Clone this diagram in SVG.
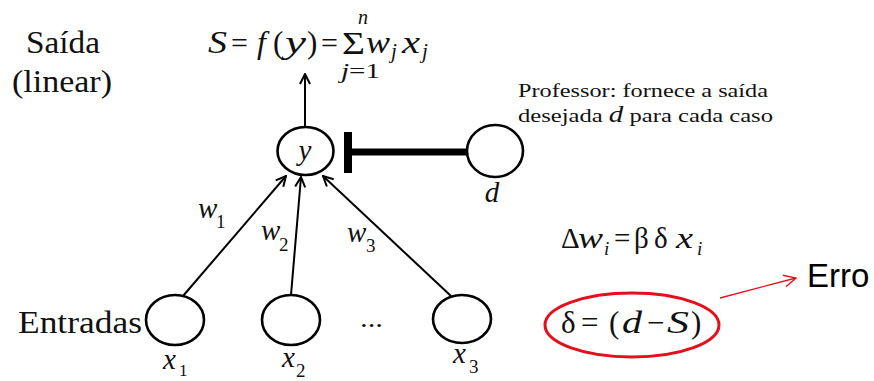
<svg xmlns="http://www.w3.org/2000/svg" width="874" height="381" viewBox="0 0 874 381">
<defs>
<style>
.t{font-family:"Liberation Serif","Times New Roman",serif;fill:#111}
.i{font-style:italic}
.node{fill:#fff;stroke:#000;stroke-width:2.6}
.con{stroke:#000;stroke-width:2;fill:none}
</style>
<marker id="chev" viewBox="0 0 12 12" refX="11" refY="6" markerWidth="12" markerHeight="12" markerUnits="userSpaceOnUse" orient="auto">
<path d="M1,1 L11,6 L1,11" fill="none" stroke="#000" stroke-width="2"/>
</marker>
<marker id="redchev" viewBox="0 0 14 14" refX="13" refY="7" markerWidth="14" markerHeight="14" markerUnits="userSpaceOnUse" orient="auto">
<path d="M1,1 L13,7 L1,13" fill="none" stroke="#e3101b" stroke-width="1.3"/>
</marker>
</defs>
<rect width="874" height="381" fill="#fff"/>

<g id="labels">
<text class="t" x="26" y="53" font-size="32" textLength="74" lengthAdjust="spacingAndGlyphs">Saída</text>
<text class="t" x="12" y="92" font-size="32" textLength="100" lengthAdjust="spacingAndGlyphs">(linear)</text>
<text class="t" x="18" y="333" font-size="32" textLength="124" lengthAdjust="spacingAndGlyphs">Entradas</text>
</g>

<g id="formula" class="t">
<text class="i" x="208" y="53" font-size="32" textLength="19" lengthAdjust="spacingAndGlyphs">S</text>
<text x="231" y="53" font-size="30">=</text>
<text class="i" x="257" y="53" font-size="32">f</text>
<text x="273" y="53" font-size="31">(</text>
<text class="i" x="285" y="53" font-size="32" textLength="21" lengthAdjust="spacingAndGlyphs">y</text>
<text x="307" y="53" font-size="31">)</text>
<text x="321" y="53" font-size="30">=</text>
<text x="342" y="54" font-size="31" textLength="23" lengthAdjust="spacingAndGlyphs">Σ</text>
<text class="i" x="358" y="24" font-size="20">n</text>
<text x="341" y="78" font-size="20" textLength="39" lengthAdjust="spacingAndGlyphs"><tspan font-style="italic">j</tspan>=1</text>
<text class="i" x="366" y="53" font-size="32" textLength="24" lengthAdjust="spacingAndGlyphs">w</text>
<text class="i" x="391" y="58" font-size="21">j</text>
<text class="i" x="402" y="53" font-size="32" textLength="18" lengthAdjust="spacingAndGlyphs">x</text>
<text class="i" x="422" y="58" font-size="21">j</text>
</g>

<g id="professor" class="t">
<text x="518" y="97" font-size="19.5" textLength="250" lengthAdjust="spacingAndGlyphs">Professor: fornece a saída</text>
<text x="518" y="122" font-size="19.5" textLength="255" lengthAdjust="spacingAndGlyphs">desejada <tspan font-style="italic" font-size="23">d</tspan> para cada caso</text>
</g>

<g id="connectors">
<line class="con" x1="305" y1="127" x2="305" y2="74" marker-end="url(#chev)"/>
<line class="con" x1="183" y1="296" x2="286" y2="176" marker-end="url(#chev)"/>
<line class="con" x1="291" y1="295" x2="301" y2="177" marker-end="url(#chev)"/>
<line class="con" x1="451" y1="296" x2="323" y2="176" marker-end="url(#chev)"/>
<line x1="348" y1="132" x2="348" y2="173" stroke="#000" stroke-width="8"/>
<line x1="352" y1="152" x2="468" y2="152" stroke="#000" stroke-width="7"/>
<line x1="720" y1="298" x2="796" y2="278" stroke="#e3101b" stroke-width="1.3" marker-end="url(#redchev)"/>
</g>

<g id="node-y">
<ellipse class="node" cx="305.5" cy="151" rx="28" ry="24"/>
<text class="t i" x="305" y="160" font-size="29" text-anchor="middle">y</text>
</g>

<g id="node-d">
<ellipse class="node" cx="495" cy="151" rx="28" ry="26"/>
<text class="t i" x="492" y="202" font-size="29" text-anchor="middle">d</text>
</g>

<g id="node-x1">
<ellipse class="node" cx="175" cy="320" rx="29" ry="25"/>
<text class="t i" x="163" y="369" font-size="29">x</text>
<text class="t" x="179" y="376" font-size="17">1</text>
<text class="t i" x="198" y="218" font-size="29">w</text>
<text class="t" x="216" y="228" font-size="19">1</text>
</g>

<g id="node-x2">
<ellipse class="node" cx="291" cy="320" rx="29" ry="25"/>
<text class="t i" x="282" y="367" font-size="29">x</text>
<text class="t" x="296" y="377" font-size="19">2</text>
<text class="t i" x="261" y="240" font-size="29">w</text>
<text class="t" x="279" y="251" font-size="19">2</text>
</g>

<g id="dots">
<text class="t" x="360" y="327" font-size="26" textLength="23" lengthAdjust="spacingAndGlyphs">...</text>
</g>

<g id="node-x3">
<ellipse class="node" cx="462" cy="319" rx="29" ry="24"/>
<text class="t i" x="453" y="363" font-size="29">x</text>
<text class="t" x="469" y="373" font-size="19">3</text>
<text class="t i" x="347" y="242" font-size="29">w</text>
<text class="t" x="366" y="252" font-size="19">3</text>
</g>

<g id="rule" class="t">
<text x="561" y="248" font-size="29">Δ</text>
<text class="i" x="578" y="248" font-size="29" textLength="25" lengthAdjust="spacingAndGlyphs">w</text>
<text class="i" x="604" y="255" font-size="19">i</text>
<text x="614" y="248" font-size="29">=</text>
<text x="634" y="248" font-size="29">β</text>
<text x="654" y="248" font-size="29">δ</text>
<text class="i" x="676" y="248" font-size="29" textLength="17" lengthAdjust="spacingAndGlyphs">x</text>
<text class="i" x="697" y="255" font-size="19">i</text>
</g>

<g id="erro">
<ellipse cx="632" cy="325" rx="87" ry="32" fill="none" stroke="#e3101b" stroke-width="3"/>
<g class="t">
<text x="561" y="333" font-size="31">δ</text>
<text x="581" y="333" font-size="31">=</text>
<text x="609" y="333" font-size="31">(</text>
<text class="i" x="622" y="333" font-size="31" textLength="20" lengthAdjust="spacingAndGlyphs">d</text>
<text x="647" y="333" font-size="31">−</text>
<text class="i" x="667" y="333" font-size="31" textLength="22" lengthAdjust="spacingAndGlyphs">S</text>
<text x="691" y="333" font-size="31">)</text>
</g>
<text x="807" y="287" font-family="Liberation Sans, Arial, sans-serif" font-size="33" fill="#000">Erro</text>
</g>
</svg>
